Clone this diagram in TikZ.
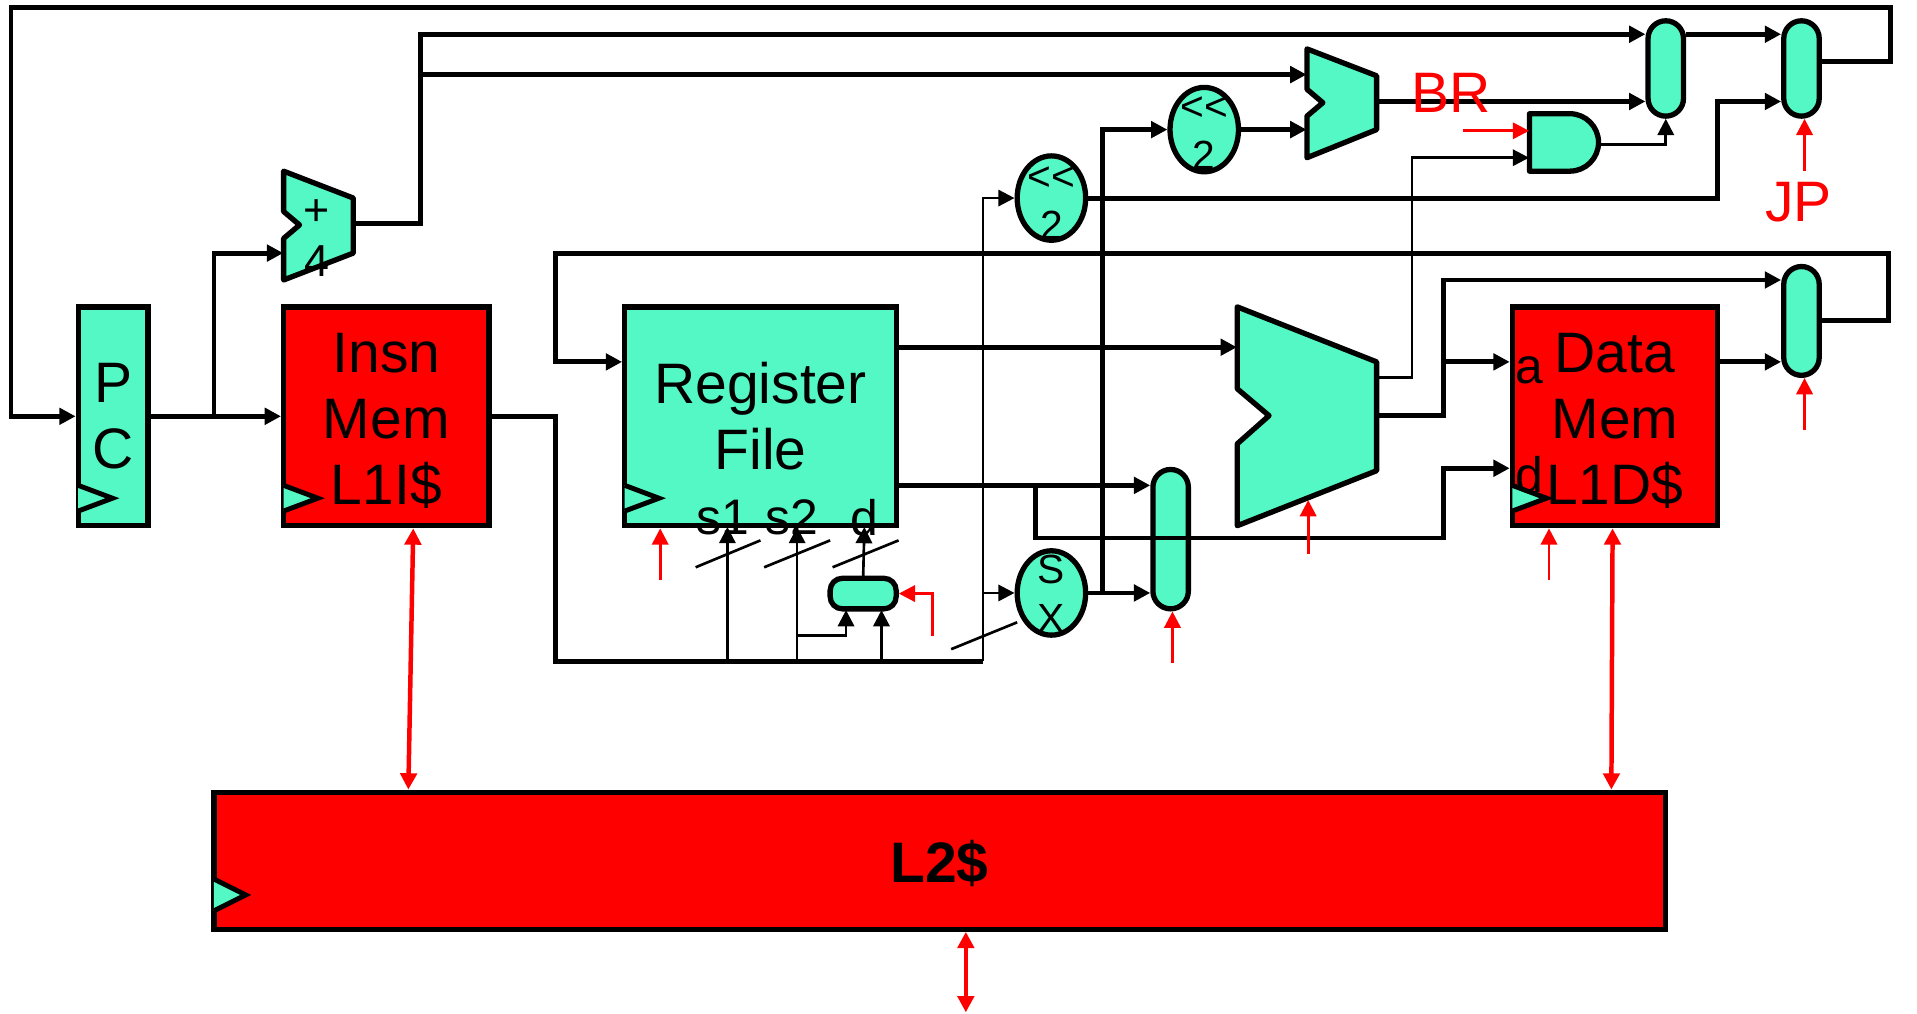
\documentclass[tikz,border=0pt]{standalone}
\usepackage{fontspec}
\setmainfont{Liberation Sans}
\usetikzlibrary{arrows.meta,shapes.geometric}
\definecolor{latchgreen}{RGB}{84,248,197}
\def\px{0.6pt}
\newcommand{\lowered}{\rule{0pt}{23.7pt}}

\begin{document}
\begin{tikzpicture}
 [x=\px, y=-\px,
  box size/.style 2 args={minimum width=#1*\px, minimum height=#2*\px, inner sep=0pt},
  big text/.style={align=center, font=\fontsize{28}{32.4}\selectfont},
  small text/.style={align=center, inner sep=0pt, font=\fontsize{20}{24}\selectfont},
  port text/.style={inner sep=0pt, font=\fontsize{24.5}{28}\selectfont},
  green node/.style={draw, line width=2.6pt, fill=latchgreen, big text},
  red node/.style={draw, line width=2.6pt, fill=red, big text},
  mux node/.style={draw, line width=2.6pt, fill=latchgreen, rounded corners=14.5*\px},
  oval node/.style={draw, ellipse, line width=2.6pt, fill=latchgreen, box size={56}{69}},
  block/.style={draw, line width=2.6pt, fill=latchgreen, line join=round},
  clock/.style={draw, line width=2.4pt, fill=latchgreen},
  wire/.style={-{Triangle[length=8pt,width=8pt]}, line width=2.4pt},
  plain wire/.style={line width=2.4pt},
  thin wire/.style={-{Triangle[length=8pt,width=8pt]}, line width=1.3pt},
  slash/.style={line width=1.3pt},
  ctrl/.style={-{Triangle[length=8pt,width=8pt]}, red, line width=1.4pt},
  mem bus/.style={{Triangle[length=8pt,width=8pt]}-{Triangle[length=8pt,width=8pt]}, red, line width=2.2pt}]

\useasboundingbox (0,0) rectangle (1568,828.6);

\node[green node, box size={57}{179}] (pc) at (92.5,340.5) {P\\C};
\node[red node, box size={168}{179}] (imem) at (316,340.5) {\lowered Insn\\Mem\\L1I\$};
\node[green node, box size={222}{179}] (rf) at (622,340.5) {Register\\File};
\node[red node, box size={168}{179}] (dmem) at (1321,340.5) {\lowered Data\\Mem\\L1D\$};
\node[red node, box size={1187}{112}, font=\fontsize{28}{32.4}\selectfont\bfseries] (l2) at (768.5,704) {\lowered L2\$};

\node[box size={57}{89}] (adder) at (260.5,184.5) {};
\node[box size={57}{89}] (brmux) at (1097.5,84.5) {};
\node[box size={114}{179}] (alu) at (1069,340.5) {};
\node[box size={56}{47}] (andgate) at (1279,116.5) {};

\draw[block] (232,140) -- (289,162) -- (289,207) -- (232,229) -- (232,195) -- (245,184) -- (232,173) -- cycle;
\draw[block] (1069,40) -- (1126,62) -- (1126,106) -- (1069,129) -- (1069,95) -- (1082,84) -- (1069,73) -- cycle;
\draw[block] (1012,251) -- (1126,296) -- (1126,385) -- (1012,430) -- (1012,363) -- (1038,340) -- (1012,318) -- cycle;
\draw[block] (1251,93) -- (1284,93) arc (-90:90:23.5) -- (1251,140) -- cycle;

\node[oval node] (shift1) at (985,106) {};
\node[oval node] (shift2) at (860,162) {};
\node[oval node] (sx) at (860,485) {};

\node[mux node, box size={29}{78}] (pcmux1) at (1362.5,56) {};
\node[mux node, box size={29}{78}] (pcmux2) at (1473.5,56) {};
\node[mux node, box size={29}{89}] (wbmux) at (1473.5,262.5) {};
\node[mux node, box size={29}{114}] (alumux) at (957.5,441) {};
\node[mux node, box size={54}{25}, rounded corners=10*\px] (rdmux) at (706,485.5) {};

\draw[clock] (64,397) -- (92,407.5) -- (64,418);
\draw[clock] (232,397) -- (260,407.5) -- (232,418);
\draw[clock] (511,397) -- (539,407.5) -- (511,418);
\draw[clock] (1237,397) -- (1265,407.5) -- (1237,418);
\draw[clock] (175,719) -- (201,732) -- (175,745);

\draw[wire] (pcmux2.east |- 0,50) -- (1546,50) -- (1546,6) -- (9,6) |- (pc);
\path (pc) edge [wire] (imem);
\draw[wire] (175,340) |- (adder.west |- 0,207);
\draw[wire] (adder.east |- 0,183) -- (344,183) |- (pcmux1.west |- 0,28);
\draw[wire] (344,61) -- (brmux.west |- 0,61);
\draw[plain wire] (imem) -- (454,340.5) -- (454,541) -- (804,541);
\draw[thin wire] (804,541) |- (shift2);
\draw[thin wire] (804,485) -- (sx);
\draw[thin wire] (595,541) -- (595,431);
\draw[thin wire] (652,541) -- (652,431);
\draw[thin wire] (652,520) -| (692,499);
\draw[thin wire] (721,541) -- (721,499);
\draw[thin wire] (rdmux.north |- 0,473) -- (707,431);
\draw[wire] (rf.east |- 0,284) -- (alu.west |- 0,284);
\draw[wire] (rf.east |- 0,397) -- (alumux.west |- 0,397);
\draw[wire] (847,397) |- (1181,440) |- (dmem.west |- 0,383);
\draw[wire] (sx) -- (alumux.west |- sx);
\draw[wire] (902,485) |- (shift1);
\draw[wire] (shift1) -- (brmux.west |- shift1);
\draw[wire] (brmux.east |- 0,83) -- (pcmux1.west |- 0,83);
\draw[wire] (shift2) -- (1405,162) |- (pcmux2.west |- 0,83);
\draw[wire] (pcmux1.east |- 0,28) -- (pcmux2.west |- 0,28);
\draw[thin wire] (alu.east |- 0,309) -- (1155,309) |- (andgate.west |- 0,129);
\draw[thin wire] (andgate.east |- 0,118) -| (pcmux1.south);
\draw[wire] (wbmux.east) -- (1545,262.5) -- (1545,207) -- (454,207) |- (rf.west |- 0,296);
\draw[wire] (alu.east |- 0,340) -- (1181,340) |- (wbmux.west |- 0,229);
\draw[wire] (1181,296) -- (dmem.west |- 0,296);
\draw[wire] (dmem.east |- 0,296) -- (wbmux.west |- 0,296);

\draw[slash] (569,464) -- (622,442);
\draw[slash] (625,464) -- (679,442);
\draw[slash] (681,464) -- (735,442);
\draw[slash] (778,531) -- (832,509);

\draw[ctrl] (540,474) -- (rf.south -| 540,0);
\draw[ctrl] (763,520) |- (rdmux.east);
\draw[ctrl] (959,542) -- (alumux.south -| 959,0);
\draw[ctrl] (1070,453) -- (1070,409);
\draw[ctrl] (1267,474) -- (dmem.south -| 1267,0);
\draw[ctrl] (1476,352) -- (wbmux.south -| 1476,0);
\draw[ctrl] (1476,140) -- (pcmux2.south -| 1476,0);
\draw[ctrl] (1197,107) -- (andgate.west |- 0,107);

\draw[mem bus] (imem.south -| 338,0) -- (l2.north -| 334,0);
\draw[mem bus] (dmem.south -| 1319,0) -- (l2.north -| 1318,0);
\draw[mem bus] (l2.south -| 790,0) -- (790,828);

\node[small text, font=\fontsize{22}{25}\selectfont] (addertext) at (259,195) {+\\4};
\node[small text] (shift1text) at (985,109) {<{}<\\2};
\node[small text] (shift2text) at (860,166) {<{}<\\2};
\node[small text] (sxtext) at (860,486) {S\\X};
\node[port text] (s1) at (591,423) {s1};
\node[port text] (s2) at (648,423) {s2};
\node[port text] (d) at (707,423) {d};
\node[port text] (atext) at (1251,303) {a};
\node[port text] (dtext) at (1251,388) {d};
\node[big text, inner sep=0pt, red] (br) at (1187,76) {BR};
\node[big text, inner sep=0pt, red] (jp) at (1471,165) {JP};

\end{tikzpicture}
\end{document}
